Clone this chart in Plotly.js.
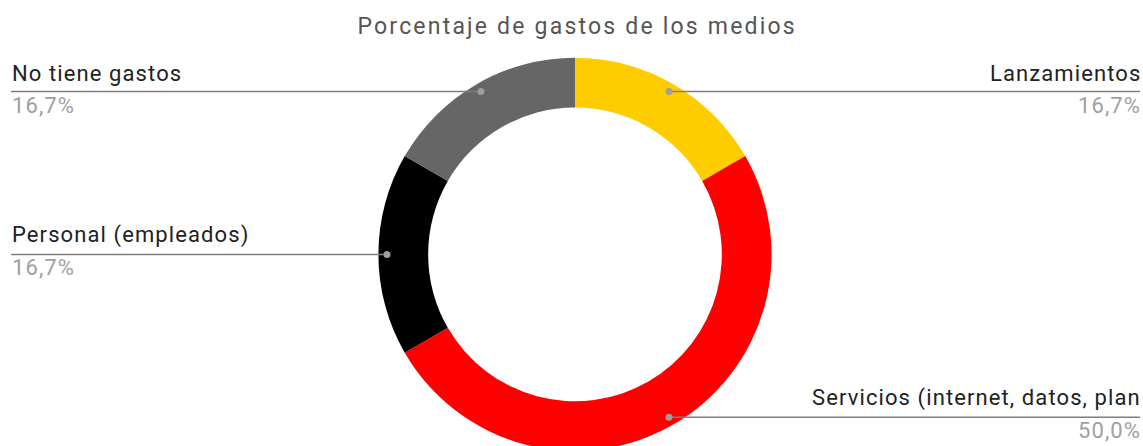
<!DOCTYPE html>
<html>
<head>
<meta charset="utf-8">
<script src="https://cdn.plot.ly/plotly-3.0.1.min.js"></script>
<style>
html,body{margin:0;padding:0;background:#fff;overflow:hidden;}
#wrap{width:1143px;height:446px;overflow:hidden;}
#chart{width:1143px;}
.annotation-text{letter-spacing:1.1px;}
.gtitle{letter-spacing:2.2px;}
</style>
</head>
<body>
<div id="wrap"><div id="chart"></div></div>
<script>
// Data
const categories = ["Lanzamientos", "Servicios (internet, datos, plan", "Personal (empleados)", "No tiene gastos"];
const values = [1, 3, 1, 1];
const colors = ["#ffcc00", "#ff0000", "#000000", "#666666"];
const chartTitle = "Porcentaje de gastos de los medios";

// Layout constants (pixels)
const W = 1143, H = 451;   // plot is taller than the 446 window so the ring is cut at the bottom
const cx = 575, topPx = 57.8;
const R = (H - topPx) / 2;
const cy = topPx + R;
const dotR = 188;
const leftEdge = 11, rightEdge = 1140;
const px = x => x / W;
const py = y => 1 - y / H;

const total = values.reduce((a, b) => a + b, 0);
const shapes = [];
const annotations = [];
let cum = 0;
values.forEach((v, i) => {
  const mid = (cum + v / 2) / total * 2 * Math.PI;
  cum += v;
  const dx = cx + dotR * Math.sin(mid);
  const dy = cy - dotR * Math.cos(mid);
  const right = dx > cx;
  const pct = (v / total * 100).toFixed(1).replace('.', ',') + '%';
  shapes.push({type: 'line', xref: 'paper', yref: 'paper',
    x0: px(right ? dx : leftEdge), x1: px(right ? rightEdge : dx), y0: py(dy), y1: py(dy),
    line: {color: '#7f7f7f', width: 1.5}});
  shapes.push({type: 'circle', xref: 'paper', yref: 'paper',
    x0: px(dx - 3.5), x1: px(dx + 3.5), y0: py(dy - 3.5), y1: py(dy + 3.5),
    fillcolor: '#9e9e9e', line: {width: 0}});
  annotations.push({xref: 'paper', yref: 'paper', x: px(right ? rightEdge + 3 : leftEdge - 1), y: py(dy - 4),
    xanchor: right ? 'right' : 'left', yanchor: 'bottom', showarrow: false,
    text: categories[i], font: {family: 'Roboto', size: 22, color: '#222222'}});
  annotations.push({xref: 'paper', yref: 'paper', x: px(right ? rightEdge + 3 : leftEdge - 1), y: py(dy - 1),
    xanchor: right ? 'right' : 'left', yanchor: 'top', showarrow: false,
    text: pct, font: {family: 'Roboto', size: 22, color: '#a0a0a0'}});
});

const trace = {
  type: 'pie',
  values: values,
  labels: categories,
  marker: {colors: colors, line: {width: 0}},
  hole: 0.747,
  sort: false,
  direction: 'clockwise',
  rotation: 0,
  textinfo: 'none',
  showlegend: false,
  domain: {x: [px(cx - R), px(cx + R)], y: [0, 1 - topPx / H]}
};

const layout = {
  width: W, height: H,
  margin: {l: 0, r: 0, t: 0, b: 0},
  paper_bgcolor: '#ffffff',
  title: {text: chartTitle, x: 0.505, xanchor: 'center', y: 1 - 26 / H, yanchor: 'middle', yref: 'container',
    font: {family: 'Roboto', size: 23, color: '#555555'}},
  shapes: shapes,
  annotations: annotations,
  showlegend: false
};

Plotly.newPlot('chart', [trace], layout, {displayModeBar: false, staticPlot: true});
</script>
</body>
</html>
